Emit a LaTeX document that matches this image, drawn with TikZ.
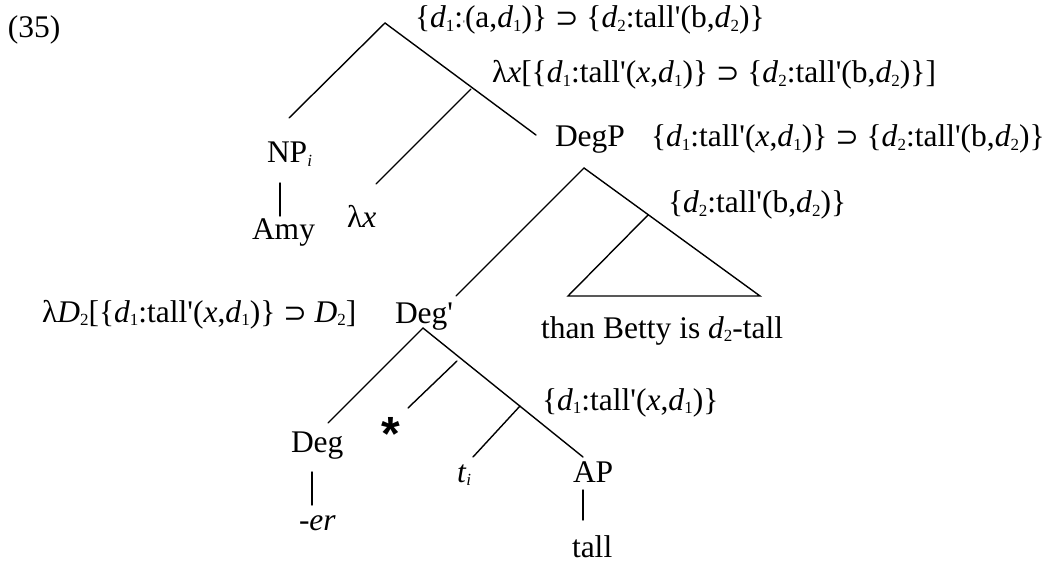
\documentclass[tikz,border=0pt]{standalone}
\usepackage{fontspec}
\setmainfont{Liberation Serif}
\newfontfamily\sansfnt{Liberation Sans}
\newfontfamily\symfnt{DejaVu Sans}
\newcommand\sbx[1]{\raisebox{-0.12em}{\fontsize{17}{17}\selectfont #1}}
\newcommand\dd[1]{\textit{d}\sbx{#1}}
\newcommand\tl{tall\textquotesingle}
\newcommand\sups{{\symfnt\fontsize{28}{30}\selectfont ⊃}}
\begin{document}
\begin{tikzpicture}[x=1pt,y=-1pt,
  every node/.style={inner sep=0pt, outer sep=0pt, font=\fontsize{31.5}{38}\selectfont},
  lbl/.style={anchor=base west},
  edge/.style={line width=1.4pt, line cap=round}]
\useasboundingbox (0,0) rectangle (1045,567);
% labels
\node[lbl] (ex) at (8,38) {(35)};
\node[lbl] (topann) at (415,28) {\{\dd1:{\fontsize{10}{10}\selectfont\textquotesingle}(a,\dd1)\} \sups{} \{\dd2:\tl(b,\dd2)\}};
\node[lbl] (lxann) at (492,83) {λ\textit{x}[\{\dd1:\tl(\textit{x},\dd1)\} \sups{} \{\dd2:\tl(b,\dd2)\}]};
\node[lbl] (np) at (267,163) {NP\sbx{\textit{i}}};
\node[lbl] (amy) at (252,240) {Amy};
\node[lbl] (lx) at (347,227) {λ\textit{x}};
\node[lbl] (degp) at (555,147) {DegP};
\node[lbl] (degpann) at (651,147) {\{\dd1:\tl(\textit{x},\dd1)\} \sups{} \{\dd2:\tl(b,\dd2)\}};
\node[lbl] (cpann) at (668,213) {\{\dd2:\tl(b,\dd2)\}};
\node[lbl] (than) at (541,338) {than Betty is \dd2-tall};
\node[lbl] (degbarann) at (42,322) {λ\textit{D}\sbx2[\{\dd1:\tl(\textit{x},\dd1)\} \sups{} \textit{D}\sbx2]};
\node[lbl] (degbar) at (395,323) {Deg\textquotesingle};
\node[lbl] (apann) at (542,410) {\{\dd1:\tl(\textit{x},\dd1)\}};
\node[lbl] (deg) at (291,452) {Deg};
\node[lbl] (er) at (299,530) {-\textit{er}};
\node[lbl] (trace) at (457,482) {\textit{t}\sbx{\textit{i}}};
\node[lbl] (ap) at (573,482) {AP};
\node[lbl] (tallw) at (572,557) {tall};
\node[anchor=north, font=\sansfnt\bfseries\fontsize{48}{48}\selectfont] (star) at (391,417) {*};
% branch points
\coordinate (root) at (385,23);
\coordinate (npT) at (289,118);
\coordinate (lxnode) at (471,89);
\coordinate (lxT) at (376,184);
\coordinate (degpT) at (536,135);
\coordinate (npV1) at (280,183);
\coordinate (npV2) at (280,216);
\coordinate (dp) at (584,168);
\coordinate (degbarT) at (456,296);
\coordinate (triT) at (648,215);
\coordinate (triL) at (568,296);
\coordinate (triR) at (760,296);
\coordinate (db) at (423,328);
\coordinate (degT) at (328,423);
\coordinate (apT) at (583,457);
\coordinate (starT) at (457,361);
\coordinate (starB) at (408,408);
\coordinate (tnode) at (520,406);
\coordinate (traceT) at (473,457);
\coordinate (degV1) at (312,472);
\coordinate (degV2) at (312,505);
\coordinate (apV1) at (583,490);
\coordinate (apV2) at (583,520);
% connectors
\draw[edge] (npT) -- (root) -- (degpT);
\draw[edge] (lxnode) -- (lxT);
\draw[edge] (npV1) -- (npV2);
\draw[edge] (degbarT) -- (dp) -- (triR) -- (triL) -- (triT);
\draw[edge] (degT) -- (db) -- (apT);
\draw[edge] (starT) -- (starB);
\draw[edge] (tnode) -- (traceT);
\draw[edge] (degV1) -- (degV2);
\draw[edge] (apV1) -- (apV2);
\end{tikzpicture}
\end{document}
